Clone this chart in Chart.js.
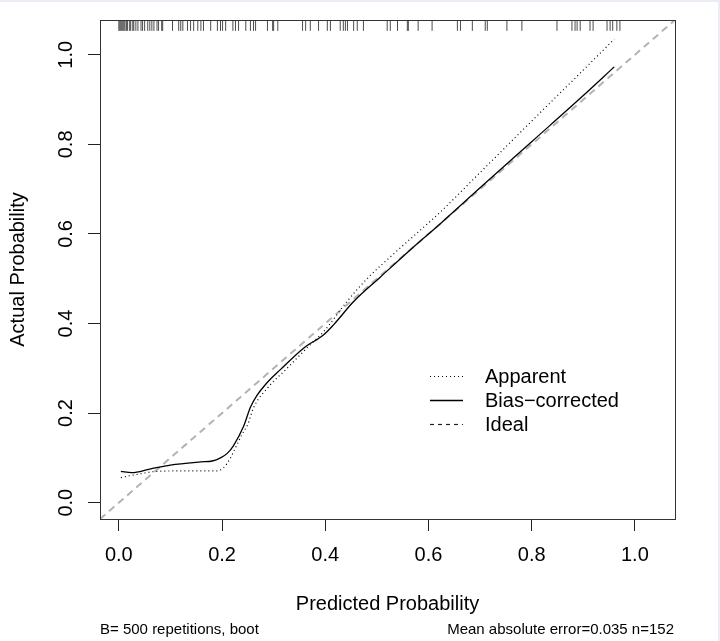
<!DOCTYPE html>
<html><head><meta charset="utf-8">
<script src="https://cdn.jsdelivr.net/npm/chart.js@4/dist/chart.umd.min.js"></script>
<style>
html,body{margin:0;padding:0;background:#fff;}
#wrap{width:720px;height:641px;position:relative;background:#fff;}
canvas{display:block;}
</style></head><body>
<div id="wrap"><canvas id="c" width="720" height="641" style="width:720px;height:641px"></canvas></div>
<script>
// ---- data ----
const apparentX = [0.004,0.030,0.076,0.140,0.190,0.203,0.215,0.225,0.239,0.250,0.261,0.288,0.326,0.371,0.397,0.442,0.481,0.532,0.623,0.700,0.800,0.900,0.960];
const apparentY = [0.056,0.062,0.070,0.071,0.071,0.078,0.097,0.120,0.153,0.175,0.212,0.256,0.300,0.353,0.382,0.449,0.500,0.555,0.649,0.737,0.852,0.966,1.035];
const biasX = [0.004,0.025,0.060,0.100,0.159,0.181,0.197,0.210,0.222,0.242,0.255,0.268,0.285,0.313,0.358,0.397,0.416,0.455,0.507,0.571,0.623,0.700,0.800,0.900,0.960];
const biasY = [0.070,0.067,0.075,0.084,0.091,0.093,0.100,0.110,0.127,0.171,0.213,0.240,0.265,0.297,0.345,0.375,0.397,0.449,0.504,0.571,0.623,0.703,0.806,0.909,0.973];
const rugX = [0.000,0.002,0.004,0.006,0.008,0.010,0.012,0.015,0.017,0.021,0.023,0.027,0.029,0.033,
  0.037,0.043,0.046,0.050,0.056,0.060,0.064,0.068,0.074,0.077,0.083,0.085,
  0.104,0.116,0.120,0.124,0.133,0.139,0.145,0.153,0.159,0.164,0.178,0.191,0.197,0.201,0.207,0.221,0.226,0.232,
  0.246,0.255,0.261,0.265,0.288,0.298,0.300,0.308,0.356,0.362,0.371,0.387,0.404,0.410,0.429,0.435,0.439,0.443,0.455,0.462,0.474,
  0.520,0.526,0.540,0.559,0.561,0.580,0.607,0.656,0.662,0.685,0.710,0.714,
  0.752,0.781,0.849,0.878,0.884,0.888,0.894,0.913,0.919,0.946,0.952,0.957,0.965,0.971];
const tickValues = [0.0,0.2,0.4,0.6,0.8,1.0];
const AX_MIN = -0.0365, AX_MAX = 1.0777;
const seriesNames = ['Apparent','Bias\u2212corrected','Ideal'];
const xTitle = 'Predicted Probability';
const yTitle = 'Actual Probability';
const footLeft = 'B= 500 repetitions, boot';
const footRight = 'Mean absolute error=0.035 n=152';

Chart.defaults.font.family = '"Liberation Sans", Arial, Helvetica, sans-serif';
Chart.defaults.color = '#000';

const toPts = (xs, ys) => xs.map((x, i) => ({x, y: ys[i]}));
const rugY = AX_MAX - 0.012;

const styles = [
  {color:'#000', width:1.2, dash:[1,3]},
  {color:'#000', width:1.3, dash:[]},
  {color:'#b3b3b3', width:2, dash:[7,5]}
];

const overlay = {
  id:'overlay',
  beforeDraw(chart){
    const {ctx, width, height} = chart;
    ctx.save();
    ctx.fillStyle = '#e9eef4';
    ctx.fillRect(0, 0, width, 2);
    ctx.fillRect(width - 2, 0, 2, height);
    ctx.restore();
  },
  afterDraw(chart){
    const {ctx, chartArea:a} = chart;
    ctx.save();
    // box
    ctx.strokeStyle = '#333'; ctx.lineWidth = 1; ctx.setLineDash([]);
    const L = Math.round(a.left), T = Math.round(a.top), R = Math.round(a.right), B = Math.round(a.bottom);
    ctx.strokeRect(L+0.5, T+0.5, R-L, B-T);
    // legend
    const lx0 = 430, lx1 = 463, tx = 485;
    const ly = [376, 400, 424], ty = [383, 407, 431];
    const legendStyles = [
      {color:'#000', width:1.2, dash:[1,3]},
      {color:'#000', width:1.3, dash:[]},
      {color:'#222', width:1.2, dash:[4,4]}
    ];
    ctx.font = '20px "Liberation Sans", Arial, sans-serif';
    ctx.fillStyle = '#000'; ctx.textBaseline = 'alphabetic'; ctx.textAlign = 'left';
    seriesNames.forEach((n, i) => {
      const s = legendStyles[i];
      ctx.beginPath(); ctx.strokeStyle = s.color; ctx.lineWidth = s.width; ctx.setLineDash(s.dash);
      ctx.moveTo(lx0, ly[i]+0.5); ctx.lineTo(lx1, ly[i]+0.5); ctx.stroke();
      ctx.fillText(n, tx, ty[i]);
    });
    ctx.setLineDash([]);
    // footer
    ctx.font = '15px "Liberation Sans", Arial, sans-serif';
    ctx.textAlign = 'left'; ctx.fillText(footLeft, a.left, 634);
    ctx.textAlign = 'right'; ctx.fillText(footRight, a.right - 1, 634);
    ctx.restore();
  }
};

new Chart(document.getElementById('c'), {
  type:'scatter',
  data:{datasets:[
    {label:seriesNames[0], data:toPts(apparentX, apparentY), showLine:true, pointRadius:0,
     borderColor:styles[0].color, borderWidth:styles[0].width, borderDash:styles[0].dash, cubicInterpolationMode:'monotone'},
    {label:seriesNames[1], data:toPts(biasX, biasY), showLine:true, pointRadius:0,
     borderColor:styles[1].color, borderWidth:styles[1].width, cubicInterpolationMode:'monotone'},
    {label:seriesNames[2], data:[{x:AX_MIN,y:AX_MIN},{x:AX_MAX,y:AX_MAX}], showLine:true, pointRadius:0,
     borderColor:styles[2].color, borderWidth:styles[2].width, borderDash:styles[2].dash},
    {label:'rug', data:rugX.map(x => ({x, y:rugY})), showLine:false, pointStyle:'line', rotation:90,
     pointRadius:5.5, pointBorderWidth:1, pointBorderColor:'rgba(0,0,0,0.7)', pointBackgroundColor:'rgba(0,0,0,0.7)'}
  ]},
  options:{
    responsive:false, animation:false,
    layout:{padding:{top:17, right:45, left:0, bottom:0}},
    plugins:{legend:{display:false}, tooltip:{enabled:false}},
    scales:{
      x:{type:'linear', min:AX_MIN, max:AX_MAX,
        afterBuildTicks: s => { s.ticks = tickValues.map(v => ({value:v})); },
        afterFit: s => { s.height = 122; },
        border:{display:false},
        grid:{drawOnChartArea:false, tickLength:12, color:'#222', tickColor:'#222', lineWidth:1},
        ticks:{font:{size:20}, padding:12, maxRotation:0, minRotation:0, callback: v => Number(v).toFixed(1), color:'#000'},
        title:{display:true, text:xTitle, font:{size:20}, padding:{top:0, bottom:25}, color:'#000'}
      },
      y:{type:'linear', min:AX_MIN, max:AX_MAX,
        afterBuildTicks: s => { s.ticks = tickValues.map(v => ({value:v})); },
        afterFit: s => { s.width = 100; },
        border:{display:false},
        grid:{drawOnChartArea:false, tickLength:12, color:'#222', tickColor:'#222', lineWidth:1},
        ticks:{font:{size:20}, padding:8, minRotation:90, maxRotation:90, crossAlign:'center', callback: v => Number(v).toFixed(1), color:'#000'},
        title:{display:true, text:yTitle, font:{size:20}, padding:{top:6, bottom:0}, color:'#000'}
      }
    }
  },
  plugins:[overlay]
});
</script>
</body></html>
